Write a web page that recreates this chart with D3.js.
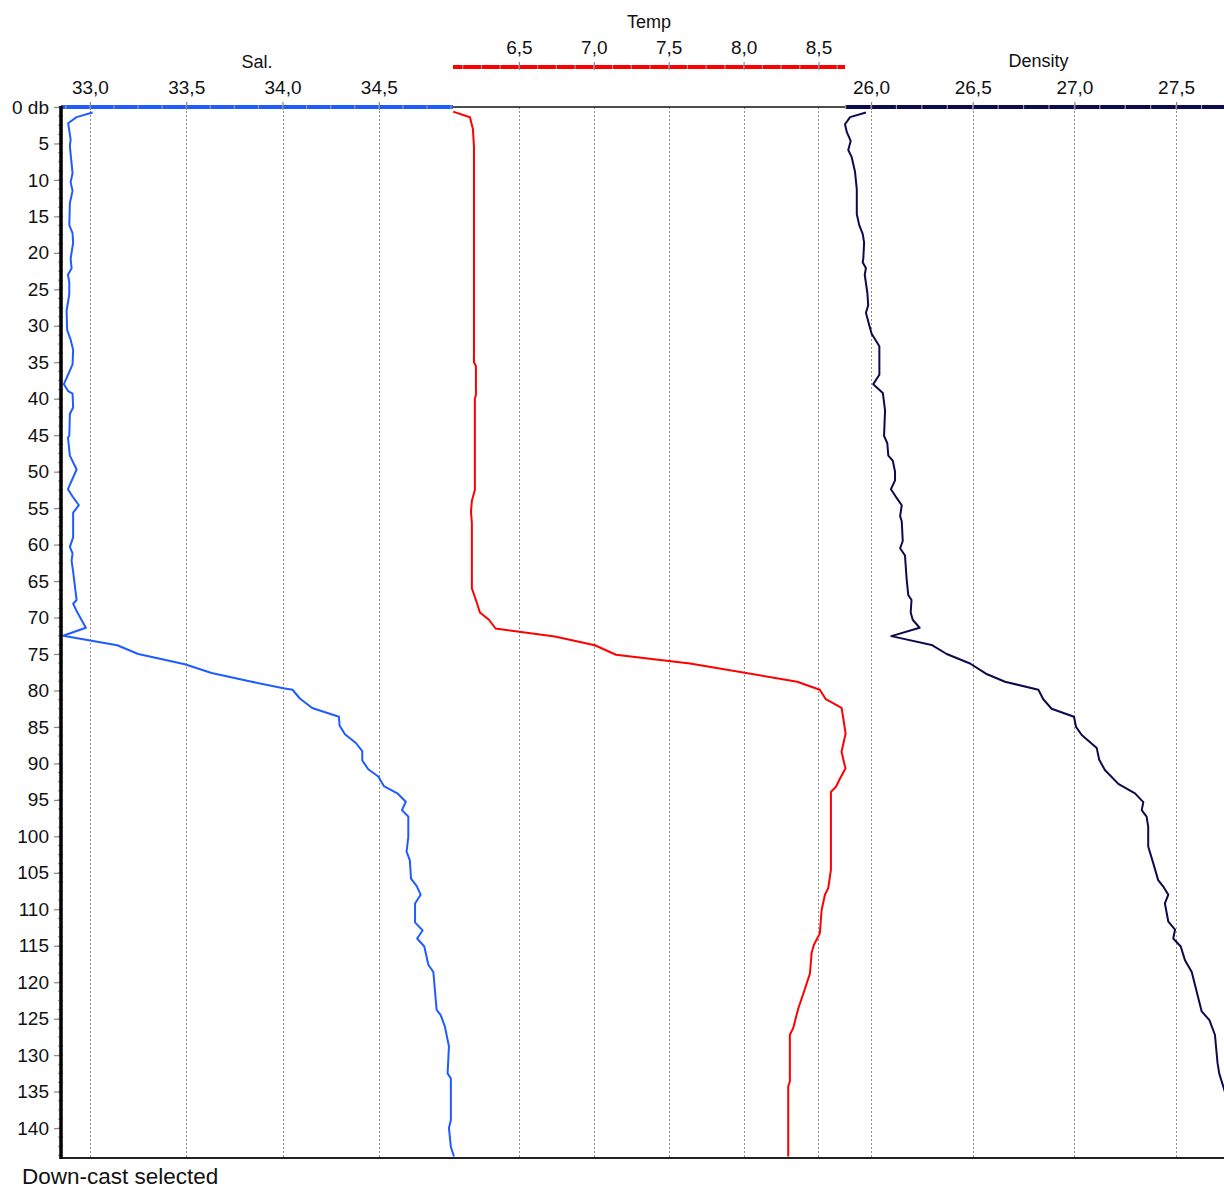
<!DOCTYPE html>
<html>
  <head>
    <meta charset="utf-8">
    <title>CTD profile</title>
    <script src="https://d3js.org/d3.v7.min.js"></script>
    <style>
      body { margin: 0; background: #fff; }
      svg { font-family: "Liberation Sans", Arial, sans-serif; }
      .tick text { fill: #111; font-size: 19px; }
      .title { fill: #111; font-size: 18px; text-anchor: middle; }
      .grid { stroke: #8a8a8a; stroke-width: 1; stroke-dasharray: 2,2; }
      .series { fill: none; stroke-width: 2; stroke-linejoin: round; }
    </style>
  </head>
  <body>
    <svg id="chart" width="1224" height="1190"></svg>
    <script>
      // depth ticks and axis tick labels
      depthTicks = [0, 5, 10, 15, 20, 25, 30, 35, 40, 45, 50, 55, 60, 65, 70, 75, 80, 85, 90, 95, 100, 105, 110, 115, 120, 125, 130, 135, 140];
      salTicks = [33.0, 33.5, 34.0, 34.5];
      tempTicks = [6.5, 7.0, 7.5, 8.0, 8.5];
      densTicks = [26.0, 26.5, 27.0, 27.5];

      // salinity profile (db, psu)
      salDepth = [0.75, 1.39, 2.22, 4.43, 5.4, 9.07, 10.3, 11.5, 13.2, 16.2, 17.3, 18.6, 20.8, 22.1, 23.0, 24.0, 25.7, 27.9, 30.6, 31.9, 33.3, 35.3, 36.7, 38.0, 38.95, 39.3, 41.2, 42.1, 45.1, 45.3, 47.8, 49.7, 52.4, 53.4, 54.6, 55.6, 59.0, 60.3, 61.2, 62.2, 63.7, 67.6, 68.1, 69.1, 71.4, 72.5, 73.8, 75.0, 76.4, 77.6, 78.7, 79.7, 79.9, 81.1, 82.4, 83.6, 84.8, 86.0, 87.2, 88.3, 89.6, 90.8, 91.8, 93.1, 94.1, 95.25, 96.4, 97.3, 100.1, 102.1, 103.3, 105.8, 106.8, 108.0, 109.2, 111.8, 112.9, 114.0, 115.1, 117.6, 118.6, 123.8, 124.5, 126.1, 128.8, 132.5, 133.2, 138.9, 140.0, 142.6, 143.9];
      salValue = [33.014, 32.931, 32.887, 32.900, 32.896, 32.910, 32.900, 32.910, 32.896, 32.893, 32.910, 32.913, 32.900, 32.905, 32.886, 32.893, 32.893, 32.879, 32.882, 32.900, 32.913, 32.910, 32.887, 32.865, 32.887, 32.910, 32.913, 32.896, 32.893, 32.886, 32.896, 32.931, 32.886, 32.910, 32.943, 32.913, 32.913, 32.896, 32.910, 32.905, 32.913, 32.931, 32.913, 32.931, 32.979, 32.861, 33.142, 33.251, 33.493, 33.632, 33.822, 34.004, 34.052, 34.090, 34.154, 34.293, 34.296, 34.324, 34.381, 34.414, 34.414, 34.445, 34.497, 34.526, 34.596, 34.640, 34.620, 34.653, 34.653, 34.644, 34.661, 34.667, 34.696, 34.717, 34.688, 34.688, 34.727, 34.699, 34.736, 34.757, 34.783, 34.800, 34.821, 34.843, 34.864, 34.857, 34.874, 34.874, 34.864, 34.874, 34.890];

      // temperature profile (db, deg C)
      tempDepth = [0.64, 1.4, 3.0, 5.5, 35.0, 35.5, 39.5, 40.0, 52.5, 54.0, 55.5, 57.0, 66.0, 67.6, 69.3, 70.3, 71.5, 72.6, 73.8, 75.1, 76.3, 78.8, 79.9, 81.2, 82.4, 83.6, 85.9, 88.4, 90.7, 92.1, 93.2, 93.9, 104.6, 107.1, 108.0, 110.1, 113.3, 114.9, 116.0, 118.8, 121.3, 123.6, 126.3, 127.2, 133.6, 134.3, 143.9];
      tempValue = [6.061, 6.173, 6.193, 6.200, 6.200, 6.213, 6.213, 6.206, 6.206, 6.186, 6.180, 6.186, 6.186, 6.213, 6.240, 6.300, 6.344, 6.740, 7.007, 7.148, 7.642, 8.358, 8.509, 8.549, 8.654, 8.664, 8.681, 8.654, 8.680, 8.643, 8.617, 8.583, 8.583, 8.565, 8.543, 8.521, 8.509, 8.469, 8.454, 8.443, 8.403, 8.365, 8.331, 8.309, 8.309, 8.298, 8.298];

      // density profile (db, sigma-t)
      densDepth = [0.75, 1.39, 2.37, 3.45, 4.2, 4.67, 5.9, 6.88, 8.83, 11.3, 14.7, 16.2, 17.4, 18.6, 20.8, 21.3, 22.1, 23.0, 25.5, 27.2, 28.2, 29.9, 31.1, 32.8, 36.7, 38.0, 39.2, 41.6, 45.1, 46.1, 47.8, 48.5, 50.0, 51.2, 52.4, 53.6, 54.6, 56.1, 56.8, 59.5, 60.5, 61.5, 64.7, 66.9, 67.6, 69.3, 70.3, 71.4, 72.55, 73.75, 75.0, 76.3, 77.7, 78.8, 79.9, 81.2, 82.5, 83.6, 85.0, 86.1, 87.9, 89.5, 90.9, 92.8, 94.1, 95.3, 96.4, 97.3, 98.7, 101.4, 103.7, 106.0, 107.0, 108.0, 109.2, 111.7, 112.8, 114.0, 115.1, 117.0, 118.6, 124.0, 125.2, 127.2, 131.1, 132.5, 134.3, 136.0];
      densValue = [25.975, 25.897, 25.872, 25.881, 25.893, 25.900, 25.888, 25.905, 25.921, 25.930, 25.930, 25.942, 25.959, 25.966, 25.962, 25.959, 25.975, 25.969, 25.982, 25.986, 25.975, 25.991, 26.003, 26.041, 26.041, 26.011, 26.058, 26.069, 26.064, 26.080, 26.085, 26.107, 26.118, 26.118, 26.098, 26.126, 26.151, 26.143, 26.151, 26.156, 26.143, 26.167, 26.175, 26.183, 26.199, 26.195, 26.205, 26.239, 26.100, 26.298, 26.372, 26.487, 26.565, 26.659, 26.823, 26.847, 26.888, 26.998, 27.008, 27.036, 27.110, 27.122, 27.150, 27.216, 27.298, 27.339, 27.331, 27.355, 27.363, 27.363, 27.388, 27.412, 27.440, 27.462, 27.445, 27.462, 27.495, 27.486, 27.523, 27.544, 27.577, 27.626, 27.664, 27.691, 27.704, 27.712, 27.732, 27.750];

      svg = d3.select("#chart");
      plot = { left: 61, top: 107, right: 1224, bottom: 1158 };
      colours = { sal: "#1f5cff", temp: "#ff0000", dens: "#0b0b4d" };
      comma = d3.formatLocale({ decimal: ",", thousands: ".", grouping: [3], currency: ["", ""] }).format(".1f");

      y = d3.scaleLinear().domain([0, 144.1]).range([plot.top, plot.bottom]);
      salX = d3.scaleLinear().domain([32.85, 34.885]).range([61, 453]);
      tempX = d3.scaleLinear().domain([6.06, 8.677]).range([453, 845]);
      densX = d3.scaleLinear().domain([25.872, 27.775]).range([845, 1232]);

      svg.append("clipPath").attr("id", "clip")
        .append("rect")
          .attr("x", plot.left)
          .attr("y", plot.top)
          .attr("width", plot.right - plot.left)
          .attr("height", plot.bottom - plot.top);

      // dotted grid lines at each major tick
      grid = svg.append("g");
      [[salX, salTicks], [tempX, tempTicks], [densX, densTicks]].forEach(function(s) {
        grid.selectAll(null)
          .data(s[1])
          .enter().append("line")
            .attr("class", "grid")
            .attr("x1", function(d) { return Math.round(s[0](d)) + 0.5; })
            .attr("x2", function(d) { return Math.round(s[0](d)) + 0.5; })
            .attr("y1", plot.top)
            .attr("y2", plot.bottom);
      });

      // frame
      svg.append("line")
        .attr("x1", plot.left).attr("x2", plot.right)
        .attr("y1", plot.top).attr("y2", plot.top)
        .attr("stroke", "#111").attr("stroke-width", 1.5);
      svg.append("line")
        .attr("x1", plot.left).attr("x2", plot.right)
        .attr("y1", plot.bottom).attr("y2", plot.bottom)
        .attr("stroke", "#222").attr("stroke-width", 2);

      // profiles
      lines = svg.append("g").attr("clip-path", "url(#clip)");
      function drawProfile(depths, values, scale, colour) {
        let pts = depths.map(function(d, i) { return [values[i], d]; });
        lines.append("path")
          .datum(pts)
          .attr("class", "series")
          .attr("stroke", colour)
          .attr("d", d3.line()
            .x(function(d) { return scale(d[0]); })
            .y(function(d) { return y(d[1]); }));
      }
      drawProfile(salDepth, salValue, salX, colours.sal);
      drawProfile(tempDepth, tempValue, tempX, colours.temp);
      drawProfile(densDepth, densValue, densX, colours.dens);

      // top axes
      function topAxis(scale, ticks, yPos, colour, title, titleY) {
        let g = svg.append("g").attr("transform", "translate(0," + yPos + ")");
        let dom = scale.domain();
        let minor = d3.range(Math.ceil(dom[0] / 0.125) * 0.125, dom[1], 0.125);
        g.append("line")
          .attr("x1", scale.range()[0]).attr("x2", Math.min(scale.range()[1], 1224))
          .attr("stroke", colour).attr("stroke-width", 4);
        g.selectAll(".minor")
          .data(minor)
          .enter().append("line")
            .attr("x1", function(d) { return scale(d); })
            .attr("x2", function(d) { return scale(d); })
            .attr("y1", -2).attr("y2", 2)
            .attr("stroke", "#999").attr("stroke-width", 1.2);
        let axis = d3.axisTop(scale)
          .tickValues(ticks)
          .tickSize(5)
          .tickPadding(8)
          .tickFormat(comma);
        let a = g.append("g").call(axis);
        a.select(".domain").remove();
        a.selectAll(".tick line").attr("stroke", "#888").attr("stroke-width", 1.2).attr("y1", 3);
        a.selectAll(".tick text").attr("font-size", 19).attr("font-family", null);
        svg.append("text")
          .attr("class", "title")
          .attr("x", (scale.range()[0] + scale.range()[1]) / 2)
          .attr("y", titleY)
          .text(title);
      }
      topAxis(salX, salTicks, plot.top, colours.sal, "Sal.", 68);
      topAxis(tempX, tempTicks, 67, colours.temp, "Temp", 28);
      topAxis(densX, densTicks, plot.top, colours.dens, "Density", 67);

      // depth axis
      depthMinor = d3.range(0, 144, 1.25);
      svg.append("g").selectAll("line")
        .data(depthMinor)
        .enter().append("line")
          .attr("x1", plot.left - 3).attr("x2", plot.left + 2)
          .attr("y1", function(d) { return y(d); })
          .attr("y2", function(d) { return y(d); })
          .attr("stroke", "#999").attr("stroke-width", 1.2);
      depthAxis = d3.axisLeft(y)
        .tickValues(depthTicks)
        .tickSize(7)
        .tickPadding(5)
        .tickFormat(function(d) { return d == 0 ? "0 db" : d; });
      leftG = svg.append("g")
        .attr("transform", "translate(" + plot.left + ",0)")
        .call(depthAxis);
      leftG.select(".domain").remove();
      leftG.selectAll(".tick line").attr("stroke", "#888").attr("stroke-width", 1.2);
      leftG.selectAll(".tick text").attr("font-size", 19).attr("font-family", null);
      svg.append("line")
        .attr("x1", plot.left).attr("x2", plot.left)
        .attr("y1", plot.top - 1).attr("y2", plot.bottom + 1)
        .attr("stroke", "#000").attr("stroke-width", 3.5);

      svg.append("text")
        .attr("x", 22)
        .attr("y", 1184)
        .attr("font-size", 22.5)
        .attr("fill", "#111")
        .text("Down-cast selected");
    </script>
  </body>
</html>
